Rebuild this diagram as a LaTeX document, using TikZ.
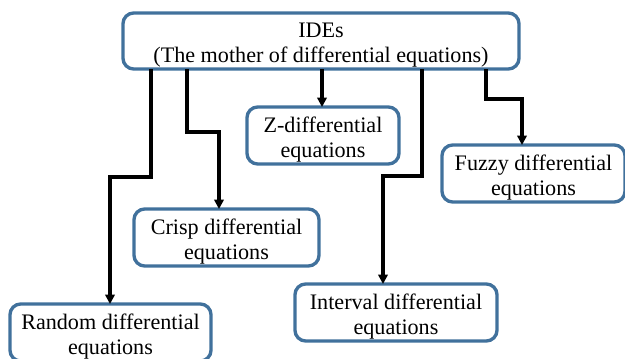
\documentclass[tikz,border=0pt]{standalone}
\usepackage{fontspec}
\setmainfont{Liberation Serif}
\usetikzlibrary{arrows.meta}
\definecolor{boxblue}{HTML}{41719C}
\newcommand\mytstrut{\rule{0pt}{17.5pt}}
\begin{document}
\begin{tikzpicture}[x=0.75pt,y=-0.75pt,
  box/.style={draw=boxblue,line width=2.5pt,rounded corners=8pt,fill=white,
    align=center,inner sep=0pt,outer sep=0pt,
    font=\fontsize{16.6pt}{19pt}\selectfont},
  conn/.style={draw=black,line width=2.5pt,-{Triangle[length=7pt,width=7pt]}}]
\useasboundingbox (0,0) rectangle (625,358);
\node[box,minimum width=297pt,minimum height=42pt] (top) at (321,41)
  {\mytstrut IDEs\\(The mother of differential equations)};
\node[box,minimum width=114pt,minimum height=42.75pt] (zde) at (323,135.5)
  {\mytstrut Z-differential\\equations};
\node[box,minimum width=137.25pt,minimum height=42.75pt] (fuzzy) at (533.5,173.5)
  {\mytstrut Fuzzy differential\\equations};
\node[box,minimum width=138.75pt,minimum height=42.75pt] (crisp) at (226.5,237.5)
  {\mytstrut Crisp differential\\equations};
\node[box,minimum width=151.5pt,minimum height=42.75pt] (interval) at (396,312.5)
  {\mytstrut Interval differential\\equations};
\node[box,minimum width=150.75pt,minimum height=42.75pt] (random) at (110.5,332.5)
  {\mytstrut Random differential\\equations};
\draw[conn] (top.south -| 151,0) -- (151,177) -- (110,177) -- (random.north -| 110,0);
\draw[conn] (top.south -| 187,0) -- (187,132) -- (219,132) -- (crisp.north -| 219,0);
\draw[conn] (top.south -| 322,0) -- (zde.north -| 322,0);
\draw[conn] (top.south -| 422,0) -- (422,176) -- (383,176) -- (interval.north -| 383,0);
\draw[conn] (top.south -| 486,0) -- (486,99) -- (522,99) -- (fuzzy.north -| 522,0);
\end{tikzpicture}
\end{document}
